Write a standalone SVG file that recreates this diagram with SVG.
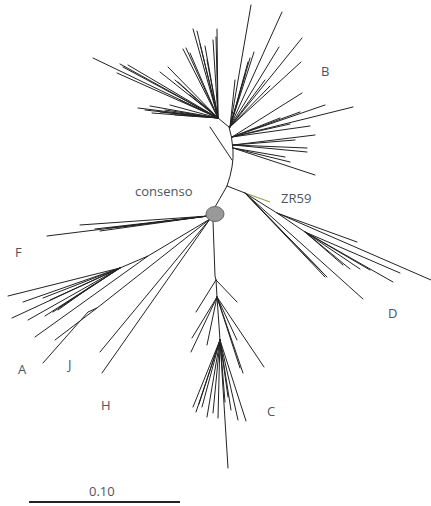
<svg xmlns="http://www.w3.org/2000/svg" width="431" height="506" viewBox="0 0 431 506">
<style>
.br{fill:none;stroke:#222;stroke-width:1;stroke-linecap:round}
.lb{font-family:"Open Sans","Noto Sans",sans-serif;font-size:13px;fill:#4d5461}
</style>
<rect width="431" height="506" fill="#fff"/>
<g id="connectors">
<!-- backbone -->
<path class="br" d="M215,207 L227,186 Q234,166 233,150 Q232,136 229,127 L218,118"/>
<path class="br" d="M210,127 L232,160"/>
<!-- B left cluster -->
<path class="br" d="M218,118 L93,58 M218,118 L120,64 M218,118 L123,67 M218,118 L128,65 M218,118 L117,73 M218,118 L168,67 M218,118 L183,49 M218,118 L186,48 M218,118 L190,53 M218,118 L193,29 M218,118 L197,31 M218,118 L175,80 M218,118 L178,82 M218,118 L160,72 M218,118 L217,29 M218,118 L216,37 M218,118 L213,40 M218,118 L138,108 M218,118 L150,106 M218,118 L152,113 M218,118 L160,112 M218,118 L145,110 M218,118 L170,105 M218,118 L205,46 M218,118 L200,44 M218,118 L165,110 M218,118 L175,115 M218,118 L180,100 M218,118 L190,95 M218,118 L207,60"/>
<!-- B right cluster -->
<path class="br" d="M230,127 L251,5 M230,127 L282,12 M230,127 L302,38 M230,127 L279,47 M230,127 L254,52 M230,127 L250,58 M230,127 L248,62 M230,127 L235,80 M230,127 L301,62 M230,127 L265,80 M230,127 L270,86 M230,127 L245,75"/>
<path class="br" d="M232,137 L302,93 M232,137 L325,105 M232,137 L353,107 M232,137 L300,112 M232,137 L280,118 M232,137 L310,126 M232,137 L290,124 M233,145 L315,135 M233,145 L307,148 M233,145 L307,152 M233,145 L295,140 M233,148 L290,162 M233,148 L315,175 M233,148 L285,157"/>
<!-- ZR59 / D -->
<path class="br" d="M227,186 L245,193"/>
<path fill="none" stroke="#9aa04a" stroke-width="1.2" d="M245,193 L270,202"/>
<path class="br" d="M245,193 L325,277 M245,193 L327,277 M245,193 L322,272 M245,193 L363,299 M245,193 L277,213 L357,242 M277,213 L431,280 M277,213 L305,232 L400,273 M305,232 L393,282 M305,232 L360,269 M305,232 L350,269 M305,232 L343,265 M305,232 L370,270"/>
<!-- F -->
<path class="br" d="M208,216 L47,236 M208,216 L80,225 M208,216 L95,229 M208,216 L110,228 M208,216 L100,231 M208,216 L120,227"/>
<!-- A / J / H -->
<path class="br" d="M210,219 L102,373 M210,219 L100,352 M210,219 L148,256 L120,268 M148,256 L35,337 M210,219 L97,308 L88,312 L43,363 M97,308 L55,340"/>
<path class="br" d="M120,268 L8,296 M120,268 L23,302 M120,268 L12,318 M120,268 L28,320 M120,268 L43,298 M120,268 L50,300 M120,268 L53,312 M120,268 L60,307 M120,268 L93,285 L45,316 M93,285 L58,310"/>
<!-- C -->
<path class="br" d="M213,221 L215,276 L216,280 L237,302 M216,280 L196,312 M216,280 L217,297 L192,338 M217,297 L191,352 M217,297 L264,367 M217,297 L207,345 M217,297 L243,373 M217,297 L240,368 M217,297 L237,340 M217,297 L220,340"/>
<path class="br" d="M220,340 L193,407 M220,340 L196,412 M220,340 L202,407 M220,340 L207,417 M220,340 L213,413 M220,340 L218,418 M220,340 L225,402 M220,340 L228,397 M220,340 L238,420 M220,340 L246,421 M220,340 L228,468 M220,340 L199,404 M220,340 L231,410"/>
</g>
<g id="consenso">
<ellipse cx="215" cy="214" rx="9" ry="7.5" fill="#999" stroke="#666" stroke-width="1"/>
<text class="lb" x="135" y="196">consenso</text>
</g>
<g id="labels">
<text class="lb" x="321" y="76">B</text>
<text class="lb" x="281" y="203">ZR59</text>
<text class="lb" x="15" y="257">F</text>
<text class="lb" x="388" y="318">D</text>
<text class="lb" x="18" y="374">A</text>
<text class="lb" x="68" y="369">J</text>
<text class="lb" x="101" y="410">H</text>
<text class="lb" x="267" y="416">C</text>
</g>
<g id="scale">
<line x1="29" y1="502" x2="180" y2="502" stroke="#222" stroke-width="2"/>
<text class="lb" x="89" y="496" font-size="12">0.10</text>
</g>
</svg>
